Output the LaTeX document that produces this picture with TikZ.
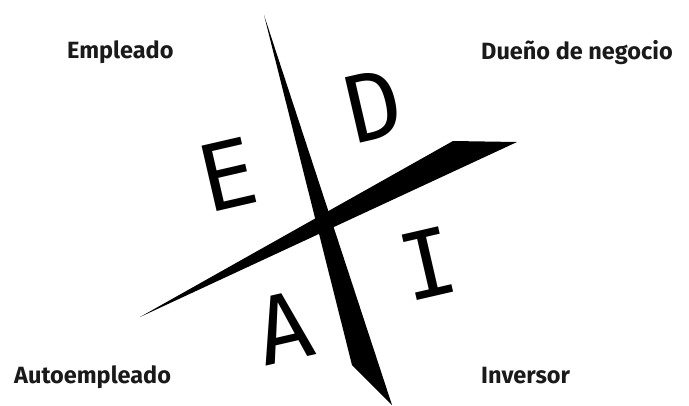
\documentclass[tikz,border=0pt]{standalone}
\usepackage{fontspec}
\setmainfont{Fira Sans}
\newfontfamily\bigfont{DejaVu Sans Mono}
\usetikzlibrary{positioning}
\definecolor{Ink}{HTML}{1A1A1A}
\tikzset{quad/.style={font=\bfseries\fontsize{23.5}{25}\selectfont,text=Ink,inner sep=0pt,anchor=base west},letter/.style={font=\bigfont\fontsize{92}{92}\selectfont,inner sep=0pt,rotate=13},blade/.style={fill=black,draw=none}}

\begin{document}
\begin{tikzpicture}[x=1pt,y=-1pt]
\useasboundingbox (0,0) rectangle (689,405);
% the two blades
\fill[blade] (264,15) -- (392,405) -- (352,365) -- cycle;
\fill[blade] (140,317) -- (453,141) -- (517,142) -- cycle;
% quadrant letters
\node[letter] (e) at (228,175) {E};
\node[letter] (d) at (374,106) {D};
\node[letter] (a) at (284,328) {A};
\node[letter] (i) at (428,264) {I};
% labels
\node[quad] (emp) at (67,58) {Empleado};
\node[quad] (due) at (481,59) {Dueño de negocio};
\node[quad] (aut) at (14,383) {Autoempleado};
\node[quad] (inv) at (481,383) {Inversor};
\end{tikzpicture}
\end{document}
